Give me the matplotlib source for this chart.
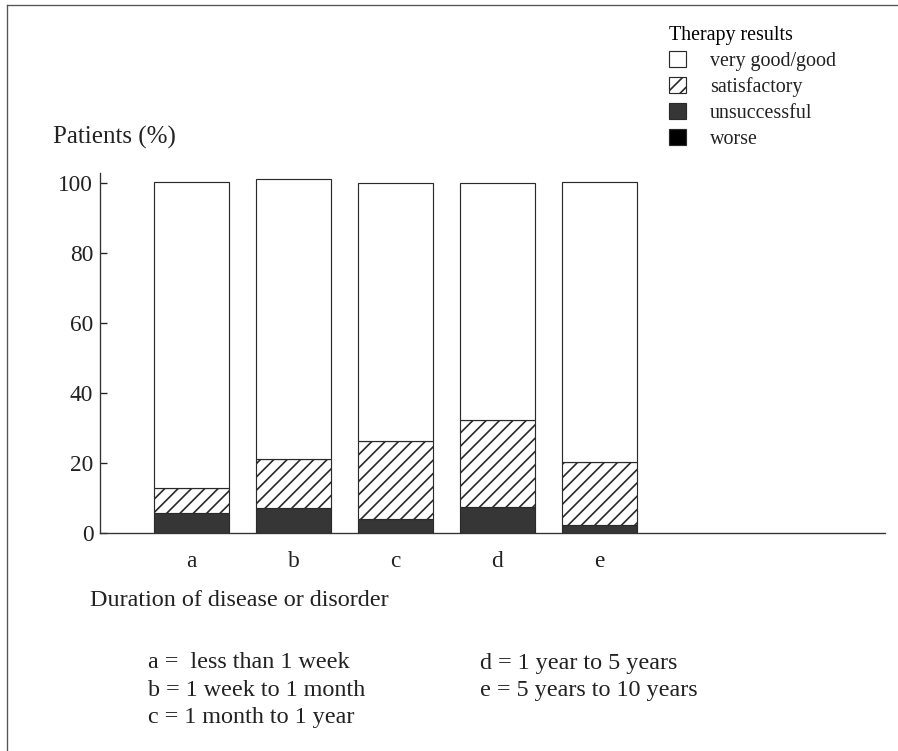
import matplotlib.pyplot as plt
from matplotlib.lines import Line2D

plt.rcParams['font.family'] = ['Liberation Serif', 'DejaVu Serif']
plt.rcParams['hatch.linewidth'] = 1.0

# Therapy results per duration group (% of patients)
groups = ['a', 'b', 'c', 'd', 'e']
worse = [0, 0, 0, 0, 0]
unsuccessful = [5.8, 7.2, 4.1, 7.4, 2.2]
satisfactory = [7.1, 14.0, 22.2, 24.9, 18.1]
very_good = [87.4, 79.9, 73.7, 67.7, 80.0]

legend_labels = ['very good/good', 'satisfactory', 'unsuccessful', 'worse']
footnotes_left = ['a =  less than 1 week', 'b = 1 week to 1 month', 'c = 1 month to 1 year']
footnotes_right = ['d = 1 year to 5 years', 'e = 5 years to 10 years']

W, H, DPI = 898, 751, 120
fig = plt.figure(figsize=(W / DPI, H / DPI), dpi=DPI)
ax = fig.add_axes([100 / W, (H - 533) / H, 785 / W, 360 / H])

x = list(range(len(groups)))
bw = 0.735
edge = dict(edgecolor='#2a2a2a', linewidth=0.7)

b_wor = ax.bar(x, worse, bw, color='black', **edge)
b_uns = ax.bar(x, unsuccessful, bw, bottom=worse, color='#363636', **edge)
bottom2 = [w + u for w, u in zip(worse, unsuccessful)]
b_sat = ax.bar(x, satisfactory, bw, bottom=bottom2, color='white', hatch='///', **edge)
bottom3 = [b + s for b, s in zip(bottom2, satisfactory)]
b_vg = ax.bar(x, very_good, bw, bottom=bottom3, color='white', **edge)

ax.set_xlim(-0.897, 6.8)
ax.set_ylim(0, 102.9)
ax.set_yticks([0, 20, 40, 60, 80, 100])
ax.set_xticks(x)
ax.set_xticklabels(groups)
ax.tick_params(axis='y', direction='in', length=4, width=0.8, pad=4, labelsize=14, colors='#222222')
ax.tick_params(axis='x', length=0, pad=11, labelsize=14, colors='#222222')
for s in ['top', 'right']:
    ax.spines[s].set_visible(False)
for s in ['left', 'bottom']:
    ax.spines[s].set_color('#333333')
    ax.spines[s].set_linewidth(0.8)

fig.text(53 / W, 1 - 137 / H, 'Patients (%)', fontsize=15, va='center', ha='left', color='#222222')
fig.text(90 / W, 1 - 601 / H, 'Duration of disease or disorder', fontsize=14.5, va='center', ha='left', color='#222222')

for i, t in enumerate(footnotes_left):
    fig.text(148 / W, 1 - (663 + 27.5 * i) / H, t, fontsize=14.5, va='center', ha='left', color='#222222')
for i, t in enumerate(footnotes_right):
    fig.text(480 / W, 1 - (663 + 27.5 * i) / H, t, fontsize=14.5, va='center', ha='left', color='#222222')

leg = fig.legend([b_vg, b_sat, b_uns, b_wor], legend_labels, title='Therapy results',
                 loc='upper left', bbox_to_anchor=(669 / W, 1 - 26 / H), frameon=False,
                 alignment='left', handlelength=0.85, handleheight=0.85, handletextpad=1.2,
                 labelspacing=0.3, fontsize=12, title_fontsize=12, borderpad=0, borderaxespad=0)
for t in leg.get_texts():
    t.set_color('#222222')

# scan border on left and top
fig.add_artist(Line2D([7 / W, 7 / W], [0, 1 - 5 / H], color='#555555', lw=0.8))
fig.add_artist(Line2D([7 / W, 1], [1 - 5 / H, 1 - 5 / H], color='#555555', lw=0.8))

fig.savefig('out.png', dpi=DPI)
